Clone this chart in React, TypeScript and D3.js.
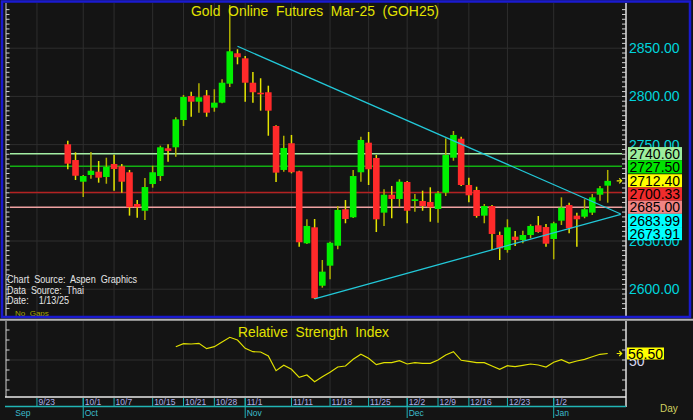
import * as d3 from 'd3'

// daily bars, oldest first (Mar-25 gold futures)
const OPEN = [2750.3, 2734.0, 2711.5, 2718.5, 2721.9, 2716.4, 2729.9, 2727.5, 2721.3, 2688.4, 2681.4, 2709.1, 2717.4, 2746.2, 2747.2, 2775.5, 2800.4, 2794.5, 2801.1, 2788.3, 2793.5, 2813.2, 2844.7, 2839.5, 2814.2, 2803.8, 2804.3, 2769.3, 2723.7, 2751.4, 2722.3, 2647.6, 2664.2, 2603.6, 2624.4, 2645.1, 2682.9, 2674.6, 2721.3, 2752.0, 2736.1, 2679.4, 2698.0, 2693.6, 2711.2, 2691.5, 2691.5, 2690.5, 2683.2, 2700.1, 2736.4, 2756.1, 2708.1, 2702.9, 2676.3, 2686.3, 2656.2, 2640.7, 2654.5, 2651.0, 2656.2, 2666.3, 2664.5, 2652.1, 2671.1, 2687.3, 2676.3, 2675.2, 2679.4, 2698.0, 2707.4]
const HIGH = [2754.1, 2742.0, 2718.5, 2742.3, 2733.0, 2736.4, 2739.5, 2729.9, 2723.7, 2692.5, 2715.4, 2728.1, 2748.9, 2750.3, 2778.3, 2801.5, 2804.9, 2813.6, 2806.6, 2807.4, 2817.7, 2894.8, 2848.9, 2841.9, 2825.3, 2818.8, 2811.1, 2770.0, 2759.2, 2760.0, 2723.0, 2672.5, 2672.8, 2630.3, 2649.3, 2686.3, 2692.5, 2723.7, 2758.2, 2763.1, 2739.2, 2703.6, 2707.1, 2714.0, 2712.2, 2698.8, 2702.2, 2705.7, 2701.9, 2756.5, 2764.1, 2758.2, 2715.7, 2706.3, 2688.4, 2687.3, 2659.7, 2672.5, 2660.4, 2660.7, 2667.3, 2675.9, 2667.6, 2670.0, 2695.3, 2689.7, 2679.4, 2693.3, 2698.8, 2707.1, 2723.7]
const LOW = [2724.4, 2713.3, 2695.7, 2714.6, 2710.5, 2709.4, 2702.2, 2700.1, 2676.3, 2674.2, 2671.8, 2705.3, 2712.2, 2732.3, 2737.5, 2769.3, 2778.9, 2783.1, 2778.9, 2784.1, 2792.8, 2809.8, 2833.3, 2794.5, 2793.5, 2785.2, 2759.2, 2711.2, 2721.9, 2720.2, 2644.1, 2646.9, 2589.8, 2601.6, 2610.3, 2641.4, 2668.4, 2673.9, 2711.5, 2708.1, 2659.3, 2665.6, 2673.6, 2685.0, 2668.4, 2680.4, 2681.4, 2670.0, 2669.0, 2696.7, 2733.3, 2707.1, 2690.2, 2674.2, 2668.4, 2640.7, 2630.3, 2637.9, 2644.8, 2647.6, 2652.8, 2658.6, 2644.1, 2631.0, 2666.6, 2658.0, 2644.1, 2673.6, 2677.0, 2691.8, 2689.7]
const CLOSE = [2730.2, 2717.7, 2717.4, 2722.9, 2715.7, 2726.8, 2724.7, 2711.5, 2685.0, 2685.0, 2706.0, 2721.3, 2747.2, 2743.4, 2776.2, 2799.4, 2794.5, 2799.1, 2783.1, 2793.5, 2814.2, 2846.8, 2840.6, 2814.2, 2804.3, 2802.2, 2785.2, 2720.9, 2746.5, 2721.3, 2648.7, 2665.6, 2590.6, 2618.2, 2648.2, 2682.2, 2672.8, 2717.4, 2754.8, 2724.4, 2672.5, 2698.0, 2693.6, 2711.5, 2681.4, 2693.3, 2686.3, 2685.0, 2699.5, 2739.2, 2760.0, 2708.1, 2697.4, 2675.9, 2686.3, 2657.3, 2642.4, 2664.2, 2651.0, 2656.2, 2665.6, 2659.3, 2647.2, 2668.4, 2684.6, 2663.2, 2672.5, 2682.9, 2695.3, 2704.7, 2712.4]

// RSI begins at bar 14
const RSI_START = 14
const RSI = [63.3, 66.3, 66, 66.7, 61.3, 63.3, 68, 72.7, 70, 61.7, 58.3, 58, 54, 39.3, 44.7, 40.7, 32.7, 35, 28.3, 33.3, 37.7, 43, 44, 50.7, 55.7, 51.7, 45.3, 47.3, 47.3, 49.3, 46, 47.3, 46.7, 46.7, 50, 55, 58.3, 49.7, 48.7, 47.3, 47.3, 44, 40.7, 44.3, 43.3, 44.7, 46, 45, 43, 47.7, 50.3, 47, 49, 50.7, 53.3, 55.7, 56.5]

const DATE_TICKS = ['9/23', '10/1', '10/7', '10/15', '10/21', '10/28', '11/1', '11/11', '11/18', '11/25', '12/2', '12/9', '12/16', '12/23', '1/2']
const DATE_TICK_BARS = [-4, 2, 6, 11, 15, 19, 23, 29, 34, 39, 44, 48, 52, 57, 63]
const MONTHS = ['Sep', 'Oct', 'Nov', 'Dec', 'Jan']
const MONTH_BARS = [-7, 2, 23, 44, 63]

const PRICE_GRID = [2600, 2650, 2700, 2750, 2800, 2850]
// 2700.00 sits fully under the tags, so it is not labelled
const PRICE_LABELS = [2600, 2650, 2750, 2800, 2850]

// horizontal study lines
const LEVELS = [2740.6, 2727.5, 2700.33, 2685.0]
const LEVEL_COLORS = ['#a4eea4', '#12b012', '#b42222', '#f0a2a2']

// triangle trend lines [bar, price]
const TREND_UPPER = [[22, 2852], [71.7, 2678.0]]
const TREND_LOWER = [[32, 2590], [71.7, 2677.7]]

// value tags on the price axis
const TAG_VALUES = [2740.6, 2727.5, 2712.4, 2700.33, 2685.0, 2683.99, 2673.91]
const TAG_COLORS = ['#9cee9c', '#00e400', '#ffff00', '#f02c2c', '#f08484', '#00ffff', '#00ffff']

const FONT = 'Liberation Sans, Arial, sans-serif'

export default function App() {
  const x = d3.scaleLinear().domain([0, 70]).range([67.8, 607.7])
  const y = d3.scaleLinear().domain([2600, 2850]).range([289.2, 48.2])
  const yr = d3.scaleLinear().domain([10, 90]).range([400, 320])

  const L = 5, R = 626
  const mainTop = 3, mainBot = 316
  const rsiTop = 321, rsiBot = 397

  const priceTicks = d3.range(2580, 2895, 5)
  const rsiTicks = d3.range(20, 90, 10)

  const rsiLine = d3.line<number>()
    .x((d, i) => x(i + RSI_START))
    .y(d => yr(d))

  // stack the tags so they don't overlap
  const tagH = 13.2
  const tagY: number[] = []
  TAG_VALUES.forEach((v, i) => {
    const natural = y(v)
    tagY.push(i === 0 ? natural : Math.max(natural, tagY[i - 1] + tagH))
  })

  const bw = 6.6
  const last = CLOSE.length - 1
  const lastRsi = RSI[RSI.length - 1]

  return (
    <svg width={693} height={420} style={{ position: 'absolute', left: 0, top: 0 }} fontFamily={FONT}>
      <rect x={0} y={0} width={693} height={420} fill="#141414" />

      {/* grid */}
      {DATE_TICK_BARS.map((b, i) => (
        <g key={'vg' + i} stroke="#2e2e2e" strokeWidth={1}>
          <line x1={x(b)} x2={x(b)} y1={mainTop} y2={mainBot} />
          <line x1={x(b)} x2={x(b)} y1={rsiTop} y2={rsiBot} />
        </g>
      ))}
      {PRICE_GRID.map(p => (
        <line key={'hg' + p} x1={L} x2={R} y1={y(p)} y2={y(p)} stroke="#2e2e2e" />
      ))}
      <line x1={L} x2={R} y1={yr(50)} y2={yr(50)} stroke="#2e2e2e" />

      {/* level lines */}
      {LEVELS.map((v, i) => (
        <line key={'lv' + i} x1={10} x2={622} y1={y(v)} y2={y(v)} stroke={LEVEL_COLORS[i]} strokeWidth={1.5} />
      ))}

      {/* candles */}
      {CLOSE.map((c, i) => {
        const o = OPEN[i]
        const up = c >= o
        const top = y(Math.max(o, c))
        const bot = y(Math.min(o, c))
        return (
          <g key={'c' + i}>
            <line x1={x(i)} x2={x(i)} y1={y(HIGH[i])} y2={y(LOW[i])} stroke={up ? '#b0b000' : '#e4e400'} strokeWidth={1.5} />
            <rect x={x(i) - bw / 2} y={top} width={bw} height={Math.max(bot - top, 1.5)} fill={up ? '#00f000' : '#ff2a2a'} />
          </g>
        )
      })}

      {/* trend lines */}
      {[TREND_UPPER, TREND_LOWER].map((t, i) => (
        <line key={'tl' + i} x1={x(t[0][0])} y1={y(t[0][1])} x2={x(t[1][0])} y2={y(t[1][1])} stroke="#22c8d8" strokeWidth={1.3} />
      ))}

      {/* last price marker */}
      <path d={`M${x(last) + 9},${y(CLOSE[last])}h5m-2.5,-2.5l2.5,2.5l-2.5,2.5`} stroke="#e8e800" strokeWidth={1.2} fill="none" />

      {/* title */}
      <text x={191} y={16} fontSize={15} fill="#e2e200" textLength={248} lengthAdjust="spacingAndGlyphs" style={{ whiteSpace: 'pre' }}>
        {'Gold  Online  Futures  Mar-25  (GOH25)'}
      </text>

      {/* info block */}
      <g fontSize={10.5} fill="#e6e6e6">
        <text x={7} y={282.5} textLength={130} lengthAdjust="spacingAndGlyphs" style={{ whiteSpace: 'pre' }}>{'Chart  Source:  Aspen  Graphics'}</text>
        <text x={7} y={293.5} textLength={77} lengthAdjust="spacingAndGlyphs" style={{ whiteSpace: 'pre' }}>{'Data  Source:  Thai'}</text>
        <text x={7} y={304} textLength={62} lengthAdjust="spacingAndGlyphs" style={{ whiteSpace: 'pre' }}>{'Date:    1/13/25'}</text>
      </g>
      <text x={15} y={316} fontSize={8} fill="#a8a800" style={{ whiteSpace: 'pre' }}>{'No  Gaps'}</text>

      {/* axes lines and ticks, main */}
      <line x1={6} x2={6} y1={mainTop} y2={mainBot} stroke="#cfcfcf" />
      <line x1={R} x2={R} y1={mainTop} y2={mainBot} stroke="#e0e0e0" strokeWidth={1.5} />
      {priceTicks.map(p => (
        <g key={'pt' + p} stroke="#d0d0d0">
          <line x1={6} x2={9.5} y1={y(p)} y2={y(p)} />
          <line x1={R - 4} x2={R} y1={y(p)} y2={y(p)} />
        </g>
      ))}
      {PRICE_LABELS.map(p => (
        <text key={'pl' + p} x={629} y={y(p)} dy="0.36em" fontSize={14} fill="#00d4dc">{p.toFixed(2)}</text>
      ))}

      {/* value tags */}
      {TAG_VALUES.map((v, i) => (
        <g key={'tag' + i}>
          <rect x={628} y={tagY[i] - tagH / 2} width={54} height={tagH} fill={TAG_COLORS[i]} />
          <text x={629.5} y={tagY[i]} dy="0.36em" fontSize={14} fill="#000">{v.toFixed(2)}</text>
        </g>
      ))}

      {/* panel frames */}
      <rect x={2} y={1.5} width={688} height={315.5} fill="none" stroke="#1a1ad0" strokeWidth={2.5} />
      <line x1={0} x2={693} y1={319.8} y2={319.8} stroke="#b4b4b4" strokeWidth={2} />

      {/* RSI panel */}
      <text x={238} y={337} fontSize={15} fill="#e2e200" textLength={151} lengthAdjust="spacingAndGlyphs" style={{ whiteSpace: 'pre' }}>
        {'Relative  Strength  Index'}
      </text>
      <path d={rsiLine(RSI) || ''} fill="none" stroke="#e0e000" strokeWidth={1.2} />
      <line x1={6} x2={6} y1={rsiTop} y2={rsiBot} stroke="#cfcfcf" />
      <line x1={R} x2={R} y1={rsiTop} y2={407} stroke="#e0e0e0" strokeWidth={1.5} />
      {rsiTicks.map(r => (
        <g key={'rt' + r} stroke="#d0d0d0">
          <line x1={6} x2={9.5} y1={yr(r)} y2={yr(r)} />
          <line x1={R - 4} x2={R} y1={yr(r)} y2={yr(r)} />
        </g>
      ))}
      <text x={629} y={yr(50)} dy="0.45em" fontSize={14} fill="#d8d8f0">50</text>
      <path d={`M${x(last) + 9},${yr(lastRsi)}h5m-2.5,-2.5l2.5,2.5l-2.5,2.5`} stroke="#e8e800" strokeWidth={1.2} fill="none" />
      <rect x={627} y={yr(lastRsi) - 6} width={37} height={12} fill="#ffff00" />
      <text x={628} y={yr(lastRsi)} dy="0.36em" fontSize={14} fill="#000">{lastRsi.toFixed(2)}</text>
      <line x1={L} x2={R} y1={rsiBot} y2={rsiBot} stroke="#e8e8e8" strokeWidth={1.5} />

      {/* date axis */}
      <line x1={L} x2={R} y1={406.5} y2={406.5} stroke="#20b4b4" strokeWidth={1.5} />
      {DATE_TICKS.map((t, i) => (
        <g key={'dt' + i}>
          <line x1={x(DATE_TICK_BARS[i])} x2={x(DATE_TICK_BARS[i])} y1={398} y2={406} stroke="#20b4b4" />
          <text x={x(DATE_TICK_BARS[i]) + 1.5} y={405} fontSize={8.5} fill="#aeaee6">{t}</text>
        </g>
      ))}
      {MONTHS.map((m, i) => (
        <g key={'m' + i}>
          {i > 0 && <line x1={x(MONTH_BARS[i])} x2={x(MONTH_BARS[i])} y1={398} y2={418} stroke="#20b4b4" />}
          <text x={x(MONTH_BARS[i]) + 1.5} y={416} fontSize={8.5} fill="#3cbccc">{m}</text>
        </g>
      ))}
      <text x={660} y={412} fontSize={10} fill="#d0d060">Day</text>
    </svg>
  )
}
